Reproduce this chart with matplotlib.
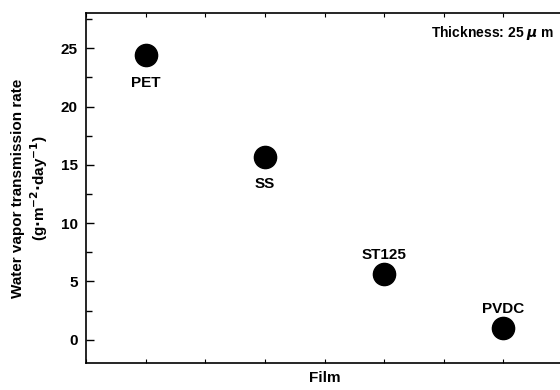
import matplotlib.pyplot as plt
from matplotlib.ticker import MultipleLocator

plt.rcParams['font.family'] = ['Liberation Sans', 'DejaVu Sans']
plt.rcParams['font.weight'] = 'bold'
plt.rcParams['mathtext.default'] = 'bf'

films = ['PET', 'SS', 'ST125', 'PVDC']
film_pos = [1, 3, 5, 7]
wvtr = [24.4, 15.7, 5.6, 1.0]
# label offsets in points: negative = below the marker
label_dy = [-20, -20, 14, 14]

fig = plt.figure(figsize=(5.6, 3.9), dpi=100)
ax = fig.add_axes([0.1536, 0.069, 0.852, 0.897])

ax.plot(film_pos, wvtr, 'o', color='black', markersize=16, linestyle='none')
for name, x, y, dy in zip(films, film_pos, wvtr, label_dy):
    ax.annotate(name, (x, y), xytext=(0, dy), textcoords='offset points',
                ha='center', va='center', fontsize=11, fontweight='bold')

ax.set_xlim(0, 8)
ax.set_ylim(-2, 28)
ax.xaxis.set_major_locator(MultipleLocator(1))
ax.xaxis.set_ticklabels([])
ax.yaxis.set_major_locator(MultipleLocator(5))
ax.yaxis.set_minor_locator(MultipleLocator(2.5))
ax.tick_params(axis='both', which='both', direction='in', top=True, right=False)
ax.tick_params(axis='x', which='major', length=3, width=0.8)
ax.tick_params(axis='y', which='major', length=6, width=1, labelsize=11, pad=6)
ax.tick_params(axis='y', which='minor', length=4, width=1)
for lbl in ax.get_yticklabels():
    lbl.set_fontweight('bold')
for sp in ax.spines.values():
    sp.set_linewidth(1.2)

ax.set_xlabel('Film', fontsize=11, fontweight='bold', labelpad=2)
ax.set_ylabel('Water vapor transmission rate\n(g$\\cdot$m$^{-2}$$\\cdot$day$^{-1}$)',
              fontsize=11, fontweight='bold', labelpad=8, linespacing=1.2)

fig.text(0.99, 0.915, 'Thickness: 25 $\\mathit{\\mu}$ m', ha='right', va='center',
         fontsize=10, fontweight='bold')

fig.savefig('out.png', dpi=100)
